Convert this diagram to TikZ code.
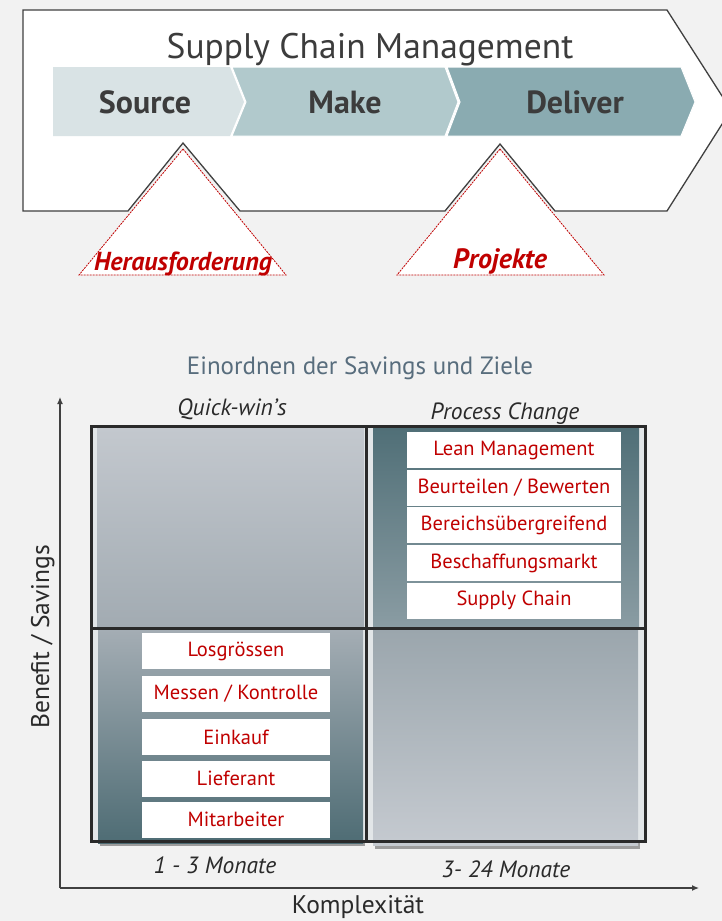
\documentclass[tikz,border=0pt]{standalone}
\usepackage{fontspec}
\setmainfont{PT Sans}
\usetikzlibrary{arrows.meta}
\definecolor{bg}{HTML}{F2F2F2}
\definecolor{outl}{HTML}{404040}
\definecolor{dark}{HTML}{3C3C3C}
\definecolor{redt}{HTML}{C00000}
\definecolor{srcC}{HTML}{D9E3E5}
\definecolor{makeC}{HTML}{B1C9CC}
\definecolor{delC}{HTML}{8AABB1}
\definecolor{slate}{HTML}{586D7D}
\definecolor{frameC}{HTML}{2A2A2A}
\definecolor{strip}{HTML}{E2E6E8}
\tikzset{
  outline/.style={draw=outl, line width=1.3pt, fill=white, line join=miter},
  redtri/.style={draw=redt, line width=0.8pt, dash pattern=on 2pt off 1pt, fill=white},
  chev/.style={draw=white, line width=1pt},
  chevtext/.style={anchor=base, text=dark, font=\fontsize{32}{36}\selectfont\bfseries, inner sep=0},
  redlabel/.style={anchor=base, text=redt, font=\fontsize{26}{30}\selectfont\bfseries\itshape, inner sep=0},
  itlabel/.style={anchor=base, text=frameC, font=\fontsize{23.5}{27}\selectfont\itshape, inner sep=0},
  axislabel/.style={anchor=base, text=frameC, font=\fontsize{25.5}{29}\selectfont, inner sep=0},
  itembox/.style={fill=white, text=redt, font=\fontsize{20.5}{24}\selectfont, minimum height=36pt, inner sep=0, outer sep=0},
  axisline/.style={draw=outl, line width=1.2pt, -{Latex[length=7pt,width=6pt]}},
  framel/.style={draw=frameC, line width=3pt}
}
\begin{document}
\begin{tikzpicture}[x=1pt,y=-1pt]
\useasboundingbox (0,0) rectangle (722,921);
\fill[bg] (0,0) rectangle (722,921);
% --- big arrow with spikes
\begin{scope}
\clip (0,0) rectangle (722,921);
\draw[outline] (23,10) -- (667,10) -- (731,110) -- (667,211) -- (555,211) -- (500,144) -- (445,211)
  -- (240,211) -- (183,143) -- (128,211) -- (23,211) -- cycle;
\end{scope}
% --- red dashed triangles
\draw[redtri] (183,149) -- (286,275) -- (79,275) -- cycle;
\draw[redtri] (500,149) -- (604,275) -- (397,275) -- cycle;
\node[redlabel] (her) at (183,270) {Herausforderung};
\node[redlabel, font=\fontsize{28}{32}\selectfont\bfseries\itshape] (proj) at (500,268) {Projekte};
% --- chevrons
\fill[srcC] (53,67) -- (230,67) -- (244,102) -- (230,136) -- (53,136) -- cycle;
\draw[chev, fill=makeC] (232,67) -- (445,67) -- (458,102) -- (445,136) -- (232,136) -- (246,102) -- cycle;
\draw[chev, fill=delC] (447,67) -- (681,67) -- (695,102) -- (681,136) -- (447,136) -- (460,102) -- cycle;
\node[anchor=base, text=dark, font=\fontsize{35.5}{40}\selectfont, inner sep=0] (scm) at (370,58) {Supply Chain Management};
\node[chevtext] (src) at (145,113) {Source};
\node[chevtext] (make) at (345,113) {Make};
\node[chevtext] (del) at (575,113) {Deliver};
% --- matrix title
\node[anchor=base, text=slate, font=\fontsize{25}{28}\selectfont, inner sep=0] (ein) at (360,374) {Einordnen der Savings und Ziele};
% --- axes
\coordinate (O) at (60,888);
\coordinate (ytop) at (60,397);
\coordinate (xend) at (699,888);
\draw[axisline] (O) -- (ytop);
\draw[axisline] (O) -- (xend);
\node[axislabel] (kompl) at (358,913) {Komplexität};
\node[axislabel, rotate=90] (benefit) at (49,637) {Benefit / Savings};
% --- quadrant panels
\fill[strip] (91,426) rectangle (645,841);
\shade[top color={rgb,255:red,195;green,200;blue,206}, bottom color={rgb,255:red,162;green,171;blue,178}] (97,428) rectangle (364,627);
\shade[top color={rgb,255:red,80;green,111;blue,119}, bottom color={rgb,255:red,138;green,156;blue,163}] (373,428) rectangle (639,627);
\fill[black, opacity=0.35] (100,840) rectangle (365,846);
\shade[top color={rgb,255:red,164;green,173;blue,180}, bottom color={rgb,255:red,78;green,108;blue,116}] (98,630) rectangle (363,843);
\fill[black, opacity=0.35] (375,842) rectangle (640,849);
\shade[top color={rgb,255:red,155;green,166;blue,173}, bottom color={rgb,255:red,197;green,202;blue,208}] (373,630) rectangle (638,845);
% --- frame
\draw[framel] (91,426) rectangle (645,841);
\draw[framel] (366,426) -- (366,841);
\draw[framel] (91,628) -- (645,628);
% --- quadrant labels
\node[itlabel] (qw) at (232,415) {Quick-win's};
\node[itlabel] (pc) at (505,419) {Process Change};
\node[itlabel] (m13) at (215,873) {1 - 3 Monate};
\node[itlabel] (m324) at (506,877) {3- 24 Monate};
% --- item boxes top right
\node[itembox, minimum width=214pt] (b1) at (514,450) {Lean Management};
\node[itembox, minimum width=214pt] (b2) at (514,488) {Beurteilen / Bewerten};
\node[itembox, minimum width=214pt] (b3) at (514,525) {Bereichsübergreifend};
\node[itembox, minimum width=214pt] (b4) at (514,563) {Beschaffungsmarkt};
\node[itembox, minimum width=214pt] (b5) at (514,600.5) {Supply Chain};
% --- item boxes bottom left
\node[itembox, minimum width=188pt] (c1) at (236,651) {Losgrössen};
\node[itembox, minimum width=188pt] (c2) at (236,694) {Messen / Kontrolle};
\node[itembox, minimum width=188pt] (c3) at (236,737) {Einkauf};
\node[itembox, minimum width=188pt] (c4) at (236,778.5) {Lieferant};
\node[itembox, minimum width=188pt] (c5) at (236,819.5) {Mitarbeiter};
\end{tikzpicture}
\end{document}
